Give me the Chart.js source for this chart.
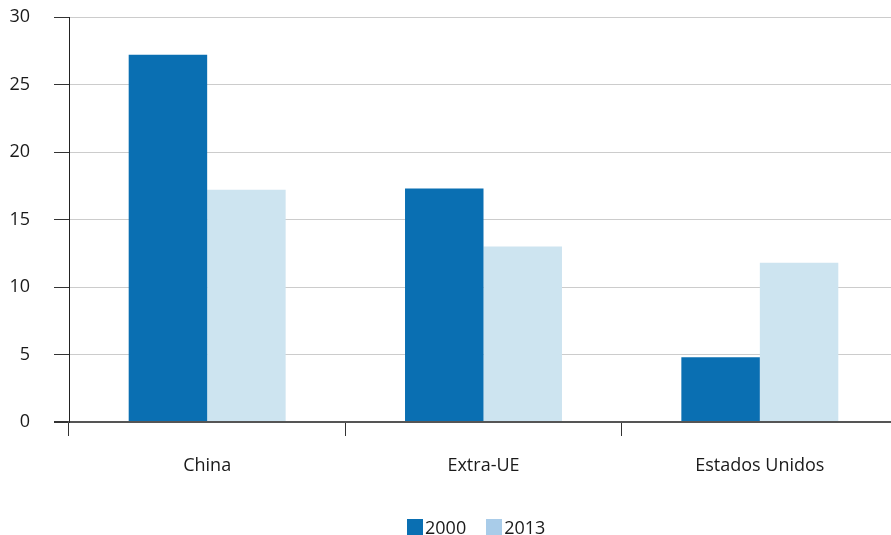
<!DOCTYPE html>
<html>
<head>
<meta charset="utf-8">
<script src="https://cdn.jsdelivr.net/npm/chart.js@4/dist/chart.umd.min.js"></script>
<style>
  html, body { margin: 0; padding: 0; background: #fff; overflow: hidden; }
  #wrap { position: relative; width: 891px; height: 535px; overflow: hidden; }
  #legend {
    position: absolute; left: 407px; top: 517px;
    display: flex; align-items: flex-start;
    font-family: "Open Sans", sans-serif; font-size: 18px; line-height: 20px; color: #1a1a1a;
  }
  .item { display: flex; align-items: flex-start; margin-right: 20px; }
  .box { width: 16px; height: 16px; margin-top: 2px; margin-right: 2px; }
</style>
</head>
<body>
<div id="wrap">
  <!-- plot runs a little past the right edge, so the canvas is wider than the frame -->
  <canvas id="chart" width="898" height="535"></canvas>
  <div id="legend"></div>
</div>
<script>
const categories = ["China", "Extra-UE", "Estados Unidos"];
const years = ["2000", "2013"];
const values2000 = [27.2, 17.3, 4.8];
const values2013 = [17.2, 13.0, 11.8];
const yTicks = [0, 5, 10, 15, 20, 25, 30];

const barColors = ["#0a6fb2", "#cde4f0"];
const legendColors = ["#0a6fb2", "#a9cce9"];

// legend drawn as html under the canvas
const legend = document.getElementById("legend");
years.forEach((y, i) => {
  legend.innerHTML += `<div class="item"><div class="box" style="background:${legendColors[i]}"></div><span>${y}</span></div>`;
});

const font = { family: "'Open Sans', sans-serif", size: 18 };

new Chart(document.getElementById("chart"), {
  type: "bar",
  data: {
    labels: categories,
    datasets: [
      { label: years[0], data: values2000, backgroundColor: barColors[0] },
      { label: years[1], data: values2013, backgroundColor: barColors[1] }
    ]
  },
  options: {
    responsive: false,
    animation: false,
    layout: { padding: { top: 17, right: 0, left: 0, bottom: 0 } },
    datasets: { bar: { categoryPercentage: 0.568, barPercentage: 1 } },
    scales: {
      x: {
        afterFit: a => { a.height = 113; a.paddingLeft = 0; a.paddingRight = 0; },
        grid: { offset: true, drawOnChartArea: false, tickLength: 14, color: "#333", lineWidth: 1 },
        border: { color: "#555", width: 2 },
        ticks: { color: "#1a1a1a", font, padding: 19 }
      },
      y: {
        min: 0, max: 30,
        afterFit: a => { a.width = 69; a.paddingTop = 0; a.paddingBottom = 0; },
        afterBuildTicks: a => { a.ticks = yTicks.map(v => ({ value: v })); },
        grid: {
          color: c => c.tick && c.tick.value === 0 ? "#555" : "#cccccc",
          lineWidth: c => c.tick && c.tick.value === 0 ? 2 : 1,
          tickColor: "#333",
          tickLength: 15
        },
        border: { color: "#222", width: 1 },
        ticks: { color: "#1a1a1a", font, padding: 24 }
      }
    },
    plugins: {
      legend: { display: false },
      tooltip: { enabled: false }
    }
  }
});
</script>
</body>
</html>
